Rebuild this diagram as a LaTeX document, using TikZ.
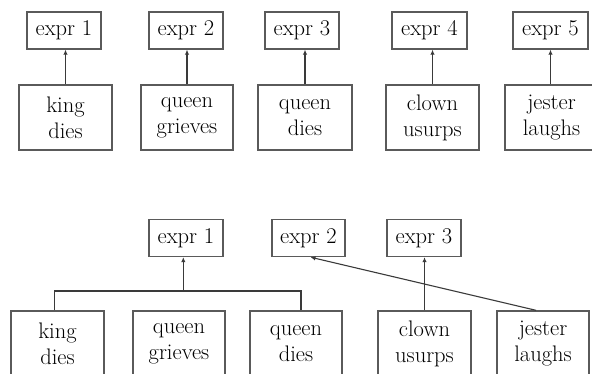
\documentclass[tikz,border=0pt]{standalone}
\usepackage{fontspec}
\usetikzlibrary{arrows.meta}
\definecolor{linegray}{HTML}{5A5A5A}
\definecolor{arrgray}{HTML}{3A3A3A}
\tikzset{
  box/.style={draw=linegray, line width=1.4pt, align=center, inner sep=0pt,
    font=\fontsize{22.5}{26}\selectfont, text=black},
  exprbox/.style={box, minimum width=74pt, minimum height=37pt},
  eventbox/.style={box, minimum width=93pt, minimum height=65pt},
  arr/.style={draw=arrgray, line width=1.1pt, -{Latex[length=5pt,width=4.5pt]}},
  plain/.style={draw=arrgray, line width=1.1pt}
}
\begin{document}
\begin{tikzpicture}[x=1pt,y=1pt]
\useasboundingbox (0,0) rectangle (592,-373);
\clip (0,0) rectangle (592,-373);
% top section
\node[exprbox] (e1) at (64,-30.5) {expr 1};
\node[exprbox] (e2) at (186,-30.5) {expr 2};
\node[exprbox] (e3) at (302,-30.5) {expr 3};
\node[exprbox, minimum width=75pt] (e4) at (429.5,-30.5) {expr 4};
\node[exprbox, minimum width=75pt] (e5) at (550.5,-30.5) {expr 5};
\node[eventbox] (k) at (65.5,-117.5) {king\\dies};
\node[eventbox, minimum width=92pt] (qg) at (187,-117.5) {queen\\grieves};
\node[eventbox, minimum width=94pt] (qd) at (305,-117.5) {queen\\dies};
\node[eventbox] (cu) at (432.5,-117.5) {clown\\usurps};
\node[eventbox] (jl) at (551.5,-117.5) {jester\\laughs};
\draw[arr] (k.north) -- (k.north |- e1.south);
\draw[arr] (qg.north) -- (qg.north |- e2.south);
\draw[arr] (qd.north) -- (qd.north |- e3.south);
\draw[arr] (cu.north) -- (cu.north |- e4.south);
\draw[arr] ([xshift=-1pt]jl.north) -- ([xshift=-1pt]jl.north |- e5.south);
% bottom section
\node[exprbox] (E1) at (186,-238) {expr 1};
\node[exprbox, minimum width=73pt] (E2) at (308.5,-238) {expr 2};
\node[exprbox] (E3) at (424,-238) {expr 3};
\node[eventbox] (K) at (57.5,-343.5) {king\\dies};
\node[eventbox, minimum width=92pt] (QG) at (179,-343.5) {queen\\grieves};
\node[eventbox, minimum width=92pt] (QD) at (296,-343.5) {queen\\dies};
\node[eventbox] (CU) at (424.5,-343.5) {clown\\usurps};
\node[eventbox, minimum width=92pt] (JL) at (543,-343.5) {jester\\laughs};
\coordinate (bl) at ([xshift=-2.8pt]K.north);
\coordinate (br) at ([xshift=5pt]QD.north);
\coordinate (bm) at ([xshift=-2.7pt]E1.south |- 0,-291);
\draw[plain] (bl) |- (bm) -| (br);
\draw[arr] (bm) -- ([xshift=-2.7pt]E1.south);
\draw[arr] (CU.north) -- (CU.north |- E3.south);
\draw[arr] ([xshift=-7pt]JL.north) -- ([xshift=2pt]E2.south);
\end{tikzpicture}
\end{document}
